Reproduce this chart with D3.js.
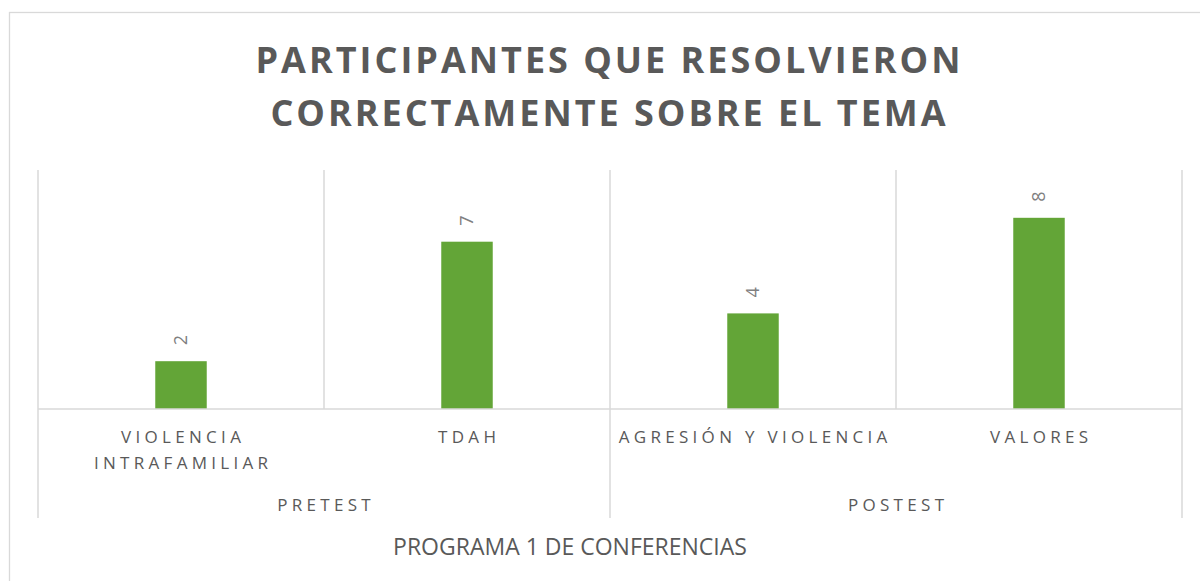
<!DOCTYPE html>
<html>
<head>
<meta charset="utf-8">
<script src="https://cdn.jsdelivr.net/npm/d3@7"></script>
<style>
  body { margin: 0; background: #fff; }
  text { font-family: "Open Sans", sans-serif; fill: #595959; }
</style>
</head>
<body>
<svg width="1200" height="581"></svg>
<script>
// data
var categories = ["VIOLENCIA INTRAFAMILIAR", "TDAH", "AGRESIÓN Y VIOLENCIA", "VALORES"]
var categoryLines = [["VIOLENCIA", "INTRAFAMILIAR"], ["TDAH"], ["AGRESIÓN Y VIOLENCIA"], ["VALORES"]]
var groups = ["PRETEST", "PRETEST", "POSTEST", "POSTEST"]
var values = [2, 7, 4, 8]
var titleLines = ["PARTICIPANTES QUE RESOLVIERON", "CORRECTAMENTE SOBRE EL TEMA"]
var axisTitle = "PROGRAMA 1 DE CONFERENCIAS"

var svg = d3.select("svg")
var grid = "#d9d9d9"

var plot = { left: 38, right: 1182, top: 170, bottom: 409 }

// chart border (runs off the right/bottom edge)
svg.append("rect")
   .attr("x", 9.5).attr("y", 12.5)
   .attr("width", 1300).attr("height", 700)
   .attr("fill", "none").attr("stroke", grid).attr("stroke-width", 1.3)

var x = d3.scaleBand()
          .domain(categories)
          .range([plot.left, plot.right])
          .paddingInner(0.82)
          .paddingOuter(0.41)

var slot = d3.scaleBand().domain(categories).range([plot.left, plot.right])

var y = d3.scaleLinear().domain([0, 10]).range([plot.bottom, plot.top])

// vertical separators: group edges go down to the group labels
var seps = categories.map((c, i) => ({ x: slot(c), long: i == 0 || groups[i] != groups[i - 1] }))
seps.push({ x: plot.right, long: true })

svg.append("g").selectAll("line")
   .data(seps)
   .enter().append("line")
   .attr("x1", d => d.x).attr("x2", d => d.x)
   .attr("y1", plot.top)
   .attr("y2", d => d.long ? 518 : plot.bottom)
   .attr("stroke", grid).attr("stroke-width", 1.5)

// bars
svg.append("g").selectAll("rect")
   .data(values)
   .enter().append("rect")
   .attr("x", (d, i) => x(categories[i]))
   .attr("width", x.bandwidth())
   .attr("y", d => y(d))
   .attr("height", d => y(0) - y(d))
   .attr("fill", "#63a537")

// baseline
svg.append("line")
   .attr("x1", plot.left).attr("x2", plot.right)
   .attr("y1", plot.bottom).attr("y2", plot.bottom)
   .attr("stroke", grid).attr("stroke-width", 1.5)

// rotated value labels
svg.append("g").selectAll("text")
   .data(values)
   .enter().append("text")
   .attr("transform", (d, i) => "translate(" + (x(categories[i]) + x.bandwidth() / 2) + "," + (y(d) - 16) + ") rotate(-90)")
   .attr("dy", "0.35em")
   .style("font-size", "18px")
   .style("fill", "#808080")
   .text(d => d)

// category labels
var ls = 4.3
var catLabels = svg.append("g").selectAll("text")
   .data(categoryLines)
   .enter().append("text")
   .attr("text-anchor", "middle")
   .style("font-size", "17px")
   .style("letter-spacing", ls + "px")

catLabels.selectAll("tspan")
   .data((d, i) => d.map(t => ({ t: t, i: i })))
   .enter().append("tspan")
   .attr("x", d => slot(categories[d.i]) + slot.bandwidth() / 2 + ls / 2)
   .attr("y", (d, j) => 443 + j * 26)
   .text(d => d.t)

// group labels
var groupNames = Array.from(new Set(groups))
svg.append("g").selectAll("text")
   .data(groupNames)
   .enter().append("text")
   .attr("text-anchor", "middle")
   .attr("x", g => {
       var idx = categories.filter((c, i) => groups[i] == g)
       var a = slot(idx[0]), b = slot(idx[idx.length - 1]) + slot.bandwidth()
       return (a + b) / 2 + ls / 2
   })
   .attr("y", 511)
   .style("font-size", "17px")
   .style("letter-spacing", ls + "px")
   .text(g => g)

// axis title
svg.append("text")
   .attr("x", 570).attr("y", 555)
   .attr("text-anchor", "middle")
   .style("font-size", "23px")
   .text(axisTitle)

// chart title
svg.append("g").selectAll("text")
   .data(titleLines)
   .enter().append("text")
   .attr("x", 608 + 1.5)
   .attr("y", (d, i) => 73 + i * 53)
   .attr("text-anchor", "middle")
   .style("font-size", "36px")
   .style("font-weight", "bold")
   .style("letter-spacing", "3px")
   .text(d => d)
</script>
</body>
</html>
